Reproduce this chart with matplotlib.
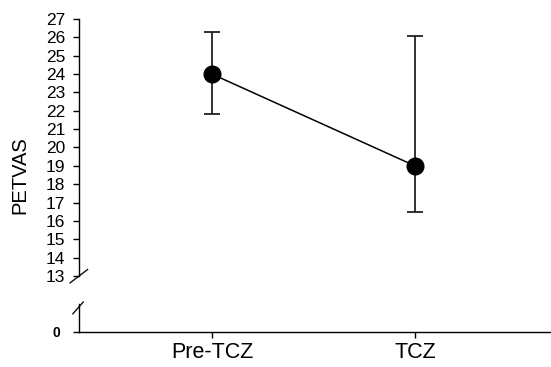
import numpy as np
import matplotlib.pyplot as plt

# data
groups = ['Pre-TCZ', 'TCZ']
median = [24.0, 19.0]
upper = [26.3, 26.1]
lower = [21.8, 16.5]
yticks = list(range(13, 28))

plt.rcParams['font.family'] = ['Liberation Sans', 'DejaVu Sans']

x = np.arange(1, len(groups) + 1)
yerr = [np.array(median) - np.array(lower), np.array(upper) - np.array(median)]

fig = plt.figure(figsize=(5.51, 3.67), dpi=100)
ax = fig.add_axes([0.1434, 0.2480, 0.8566, 0.7002])
axb = fig.add_axes([0.1434, 0.0954, 0.8566, 0.0763])

# main panel
ax.errorbar(x, median, yerr=yerr, fmt='o-', color='black', ecolor='#222222',
            elinewidth=1.3, capsize=5.5, capthick=1.3, linewidth=1.1,
            markersize=12, clip_on=False, zorder=3)
ax.set_xlim(0.345, 2.67)
ax.set_ylim(13, 27)
ax.set_yticks(yticks)
ax.set_xticks([])
for s in ['top', 'right', 'bottom']:
    ax.spines[s].set_visible(False)
ax.spines['left'].set_linewidth(1.0)
ax.tick_params(axis='y', length=4.5, width=1.0, pad=5.5, labelsize=12.5)

# lower stub with zero
axb.set_xlim(ax.get_xlim())
axb.set_ylim(0, 1)
axb.set_yticks([0])
axb.set_yticklabels(['0'], fontweight='bold', fontsize=10)
axb.set_xticks(x)
axb.set_xticklabels(groups, fontsize=15.5)
for s in ['top', 'right']:
    axb.spines[s].set_visible(False)
axb.spines['left'].set_linewidth(1.0)
axb.spines['bottom'].set_linewidth(1.0)
axb.tick_params(axis='y', length=4.5, width=1.0, pad=9)
axb.tick_params(axis='x', length=4, width=1.0, pad=3)

# axis break slashes
kw = dict(color='#111111', linewidth=1.0, clip_on=False)
ax.plot([-0.019, 0.018], [-0.027, 0.025], transform=ax.transAxes, **kw)
axb.plot([-0.013, 0.009], [0.65, 1.07], transform=axb.transAxes, **kw)

fig.text(0.036, 0.523, 'PETVAS', rotation=90, ha='center', va='center', fontsize=14.5)

fig.savefig('out.png', dpi=100)
